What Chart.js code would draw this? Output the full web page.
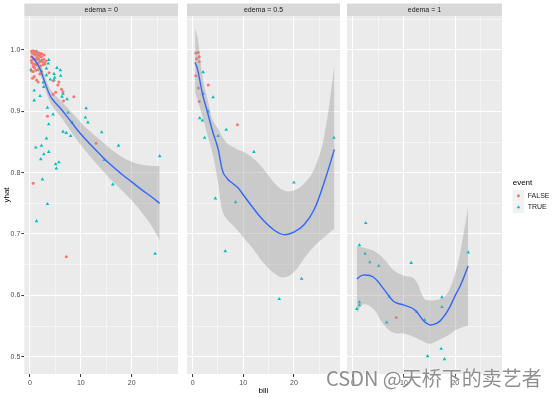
<!DOCTYPE html>
<html>
<head>
<meta charset="utf-8">
<script src="https://cdn.jsdelivr.net/npm/chart.js@4.4.0/dist/chart.umd.min.js"></script>
<style>
body { margin: 0; background: #fff; width: 554px; height: 398px; overflow: hidden; position: relative; }
canvas { position: absolute; top: 0; }
#wm { position: absolute; left: 326px; top: 364px; font: 20px "Noto Sans CJK SC", sans-serif; line-height: 28px;
      color: rgba(105,105,105,0.75); text-shadow: 0 0 2px #fff; white-space: nowrap; }
</style>
</head>
<body>
<canvas id="p0" width="182" height="398" style="left:0px"></canvas>
<canvas id="p1" width="161" height="398" style="left:183px"></canvas>
<canvas id="p2" width="211" height="398" style="left:343px"></canvas>
<div id="wm">CSDN @天桥下的卖艺者</div>
<script>
// axes
const xMajorTicks = [0, 10, 20];
const xMinorTicks = [5, 15, 25];
const yMajorTicks = [0.5, 0.6, 0.7, 0.8, 0.9, 1.0];
const yMinorTicks = [0.55, 0.65, 0.75, 0.85, 0.95, 1.05];
const panelLabels = ['edema = 0', 'edema = 0.5', 'edema = 1'];
const legendItems = ['FALSE', 'TRUE'];

// edema = 0
const falseBili0 = [0.33,0.65,0.97,1.30,1.49,1.82,2.08,0.45,0.84,1.17,1.62,1.95,2.27,0.33,0.65,0.97,1.30,0.39,0.78,1.17,
  1.56,1.95,2.47,2.73,2.92,0.33,0.65,1.17,1.62,0.84,0.52,1.30,1.62,1.95,2.27,2.60,3.12,1.10,1.43,1.75,2.08,0.65,0.91,0.26,
  2.34,2.79,0.65,7.15,13.0,8.64,6.5,6.2,3.45,4.55,5.7,5.5,3.77,4.55,5.07,6.6];
const falseYhat0 = [0.998,0.999,0.998,0.997,0.996,0.995,0.994,0.995,0.994,0.993,0.992,0.990,0.989,0.989,0.986,0.985,0.984,0.979,0.977,0.976,
  0.978,0.981,0.981,0.985,0.978,0.966,0.965,0.967,0.968,0.957,0.954,0.951,0.948,0.961,0.965,0.976,0.982,0.992,0.988,0.985,0.974,0.973,0.971,0.983,
  0.994,0.992,0.783,0.663,0.848,0.924,0.932,0.936,0.892,0.928,0.948,0.943,0.963,0.950,0.931,0.917];
const trueBili0 = [2.28,0.84,0.84,2.0,2.6,2.73,3.25,3.6,3.25,4.74,4.0,4.87,5.3,5.98,6.04,4.74,6.3,6.5,7.3,3.45,4.55,3.7,6.5,7.15,8.0,8.3,7.5,
  11.05,10.9,11.4,14.1,17.4,25.5,14.6,16.3,1.17,2.28,2.73,2.14,3.25,3.7,5.07,5.7,5.2,2.47,1.3,3.45,24.6,1.3,3.7,2.86,0.2];
const trueYhat0 = [0.983,0.934,0.918,0.925,0.947,0.940,0.970,0.978,0.959,0.961,0.952,0.955,0.971,0.967,0.958,0.951,0.924,0.929,0.920,0.906,0.895,0.879,0.867,0.865,0.860,0.882,0.898,
  0.905,0.890,0.882,0.866,0.844,0.827,0.821,0.781,0.841,0.844,0.830,0.822,0.856,0.834,0.814,0.817,0.807,0.789,0.721,0.749,0.668,0.998,0.984,0.977,0.968];
const smoothBili0 = [0.3,1,2,3,4,5,6,8,10,12,14,16,18,20,22,24,25.5];
const smoothFit0 = [0.990,0.983,0.969,0.946,0.925,0.914,0.905,0.884,0.863,0.845,0.828,0.812,0.798,0.785,0.772,0.760,0.750];
const smoothHigh0 = [0.998,0.990,0.978,0.956,0.936,0.926,0.918,0.900,0.882,0.866,0.852,0.838,0.826,0.818,0.813,0.811,0.811];
const smoothLow0 = [0.982,0.976,0.960,0.936,0.914,0.902,0.892,0.868,0.845,0.825,0.806,0.788,0.772,0.755,0.735,0.712,0.690];

// edema = 0.5
const falseBili1 = [0.64,1.1,0.77,1.3,1.3,0.64,1.16,1.3,3.1,8.84];
const falseYhat1 = [0.995,0.996,0.986,0.989,0.981,0.958,0.938,0.916,0.943,0.878];
const trueBili1 = [2.07,2.07,4.06,3.1,1.41,1.93,2.38,5.03,6.64,12.1,20.0,27.9,4.5,8.5,6.45,17.1,21.5];
const trueYhat1 = [0.964,0.929,0.923,0.900,0.889,0.885,0.857,0.860,0.870,0.834,0.784,0.857,0.758,0.752,0.672,0.594,0.627];
const smoothBili1 = [0.5,1,2,3,4,5,6,7,8,9,10,12,14,16,18,20,22,24,26,28];
const smoothFit1 = [0.980,0.968,0.927,0.897,0.866,0.840,0.801,0.789,0.782,0.775,0.764,0.742,0.722,0.707,0.699,0.703,0.715,0.740,0.785,0.838];
const smoothHigh1 = [1.035,1.020,0.955,0.918,0.885,0.872,0.857,0.847,0.842,0.837,0.834,0.823,0.806,0.785,0.771,0.771,0.782,0.806,0.860,0.975];
const smoothLow1 = [0.930,0.918,0.890,0.860,0.830,0.785,0.735,0.722,0.714,0.705,0.695,0.675,0.653,0.637,0.629,0.638,0.660,0.680,0.695,0.709];

// edema = 1
const falseBili2 = [8.5];
const falseYhat2 = [0.564];
const trueBili2 = [2.56,1.32,2.43,3.34,5.09,11.4,22.5,7.15,1.32,1.32,0.81,6.64,17.4,17.4,14.0,17.25,14.6,17.9,12.5];
const trueYhat2 = [0.718,0.682,0.668,0.654,0.648,0.653,0.670,0.598,0.589,0.584,0.578,0.556,0.597,0.581,0.560,0.513,0.501,0.496,0.573];
const smoothBili2 = [0.8,2,4,6,8,10,12,14,15,16,17,18,19,20,21,22.5];
const smoothFit2 = [0.627,0.633,0.630,0.611,0.590,0.584,0.577,0.557,0.552,0.553,0.558,0.568,0.582,0.600,0.616,0.648];
const smoothHigh2 = [0.680,0.678,0.673,0.660,0.641,0.632,0.627,0.594,0.592,0.592,0.594,0.598,0.612,0.636,0.672,0.744];
const smoothLow2 = [0.570,0.585,0.578,0.553,0.539,0.538,0.532,0.524,0.521,0.524,0.528,0.532,0.537,0.543,0.547,0.551];

const pts = (xs, ys) => xs.map((x, i) => ({ x: x, y: ys[i] }));
const allTicks = (a, b) => a.concat(b).sort((p, q) => p - q).map(v => ({ value: v }));

// grey panel + facet strip
const panelBg = {
  id: 'panelBg',
  beforeDraw(chart, args, opts) {
    const { ctx, chartArea: a } = chart;
    ctx.save();
    ctx.fillStyle = '#EBEBEB';
    ctx.fillRect(a.left, a.top, a.right - a.left, a.bottom - a.top);
    ctx.fillStyle = '#D9D9D9';
    ctx.fillRect(a.left, 3.5, a.right - a.left, a.top - 3.5);
    ctx.fillStyle = '#1A1A1A';
    ctx.font = '7px "Liberation Sans"';
    ctx.textAlign = 'center';
    ctx.textBaseline = 'middle';
    ctx.fillText(opts.text, (a.left + a.right) / 2, (3.5 + a.top) / 2 + 0.5);
    ctx.restore();
  }
};

// ggplot-like legend with grey key squares
const keyLegend = {
  id: 'keyLegend',
  afterDraw(chart, args, opts) {
    if (!opts.show) return;
    const ctx = chart.ctx;
    ctx.save();
    ctx.textAlign = 'left';
    ctx.textBaseline = 'middle';
    ctx.fillStyle = '#000';
    ctx.font = '8px "Liberation Sans"';
    ctx.fillText(opts.title, opts.x, opts.y);
    const items = chart.data.datasets.filter(ds => legendItems.includes(ds.label));
    items.forEach((ds, i) => {
      const top = opts.y + 7 + i * 11.5;
      ctx.fillStyle = '#F2F2F2';
      ctx.fillRect(opts.x, top, 11.5, 11.5);
      ctx.fillStyle = ds.backgroundColor;
      ctx.strokeStyle = ds.borderColor;
      Chart.helpers.drawPoint(ctx, { pointStyle: ds.pointStyle, radius: ds.pointRadius, borderWidth: 0, rotation: 0 },
        opts.x + 5.75, top + 5.75);
      ctx.fillStyle = '#1A1A1A';
      ctx.font = '7px "Liberation Sans"';
      ctx.fillText(ds.label, opts.x + 15, top + 6);
    });
    ctx.restore();
  }
};

function makePanel(id, k, d) {
  const first = k === 0, last = k === 2;
  return new Chart(document.getElementById(id), {
    type: 'scatter',
    data: {
      datasets: [
        { type: 'line', label: 'fit', data: pts(d.sx, d.fit), borderColor: '#3366FF', borderWidth: 1.4,
          pointRadius: 0, tension: 0.4, fill: false },
        { type: 'line', label: 'high', data: pts(d.sx, d.high), borderWidth: 0, borderColor: 'rgba(0,0,0,0)',
          pointRadius: 0, tension: 0.4, fill: '+1', backgroundColor: 'rgba(153,153,153,0.4)' },
        { type: 'line', label: 'low', data: pts(d.sx, d.low), borderWidth: 0, borderColor: 'rgba(0,0,0,0)',
          pointRadius: 0, tension: 0.4, fill: false },
        { label: 'FALSE', data: pts(d.fx, d.fy), pointStyle: 'circle', pointRadius: 1.5,
          backgroundColor: '#F8766D', borderColor: '#F8766D', borderWidth: 0 },
        { label: 'TRUE', data: pts(d.tx, d.ty), pointStyle: 'triangle', pointRadius: 2.1,
          backgroundColor: '#00BFC4', borderColor: '#00BFC4', borderWidth: 0 }
      ]
    },
    options: {
      responsive: false, animation: false, events: [],
      layout: { padding: { left: first ? 0 : 2, right: last ? 52 : 2, top: 16, bottom: 0 } },
      plugins: {
        panelBg: { text: panelLabels[k] },
        keyLegend: { show: last, title: 'event', x: 169.7, y: 183 },
        tooltip: { enabled: false },
        legend: { display: false }
      },
      scales: {
        x: {
          type: 'linear', min: -1.1, max: 29.1,
          afterBuildTicks: s => { s.ticks = allTicks(xMajorTicks, xMinorTicks); },
          afterFit: s => { s.height = 24; },
          border: { display: false },
          grid: { color: '#FFFFFF', lineWidth: c => xMajorTicks.includes(c.tick.value) ? 1.1 : 0.5,
            tickLength: 3, tickWidth: 1, tickColor: c => xMajorTicks.includes(c.tick.value) ? '#333333' : 'rgba(0,0,0,0)' },
          ticks: { autoSkip: false, maxRotation: 0, padding: 2, color: '#4D4D4D', font: { family: 'Liberation Sans', size: 7 },
            callback: v => xMajorTicks.includes(v) ? String(v) : '' },
          title: { display: k === 1, text: 'bili', color: '#000', font: { family: 'Liberation Sans', size: 8 }, padding: { top: 0, bottom: 2 } }
        },
        y: {
          type: 'linear', min: 0.4718, max: 1.0555,
          afterBuildTicks: s => { s.ticks = allTicks(yMajorTicks, yMinorTicks); },
          afterFit: s => { s.width = first ? 24.3 : 0; },
          border: { display: false },
          grid: { color: '#FFFFFF', lineWidth: c => yMajorTicks.includes(c.tick.value) ? 1.1 : 0.5,
            drawTicks: first, tickLength: 3, tickWidth: 1,
            tickColor: c => yMajorTicks.includes(c.tick.value) ? '#333333' : 'rgba(0,0,0,0)' },
          ticks: { display: first, autoSkip: false, padding: 1, color: '#4D4D4D', font: { family: 'Liberation Sans', size: 7 },
            callback: v => yMajorTicks.includes(v) ? v.toFixed(1) : '' },
          title: { display: first, text: 'yhat', color: '#000', font: { family: 'Liberation Sans', size: 8 }, padding: { top: 2, bottom: 0 } }
        }
      }
    },
    plugins: [panelBg, keyLegend]
  });
}

makePanel('p0', 0, { fx: falseBili0, fy: falseYhat0, tx: trueBili0, ty: trueYhat0, sx: smoothBili0, fit: smoothFit0, high: smoothHigh0, low: smoothLow0 });
makePanel('p1', 1, { fx: falseBili1, fy: falseYhat1, tx: trueBili1, ty: trueYhat1, sx: smoothBili1, fit: smoothFit1, high: smoothHigh1, low: smoothLow1 });
makePanel('p2', 2, { fx: falseBili2, fy: falseYhat2, tx: trueBili2, ty: trueYhat2, sx: smoothBili2, fit: smoothFit2, high: smoothHigh2, low: smoothLow2 });
</script>
</body>
</html>
